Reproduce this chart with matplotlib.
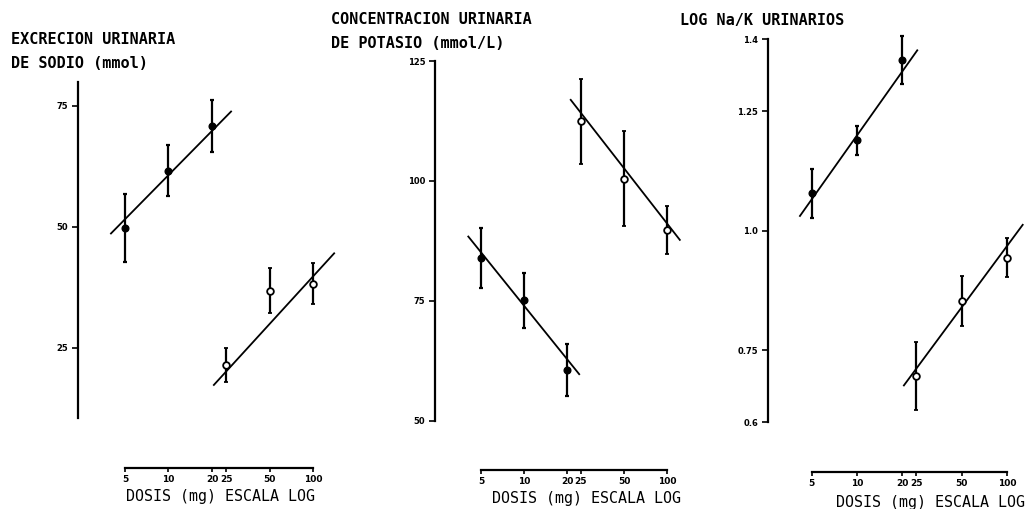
import matplotlib
matplotlib.use("Agg")
import matplotlib.pyplot as plt

W, H = 1030, 509

# Dose groups (mg)
dosis_baja = [5, 10, 20]
dosis_alta = [25, 50, 100]
dosis_ticks = [5, 10, 20, 25, 50, 100]
dosis_labels = ["5", "10", "20", "25", "50", "100"]

# Urinary sodium excretion (mmol)
sodio_baja = [49.8, 61.6, 70.8]
sodio_baja_err = [7.0, 5.3, 5.4]
sodio_alta = [21.5, 36.8, 38.2]
sodio_alta_err = [3.5, 4.7, 4.2]
sodio_recta_baja_x = [4.0, 27.1]
sodio_recta_baja_y = [48.6, 73.8]
sodio_recta_alta_x = [20.6, 140.0]
sodio_recta_alta_y = [17.3, 44.5]

# Urinary potassium concentration (mmol/L)
potasio_baja = [83.9, 75.1, 60.5]
potasio_baja_err = [6.2, 5.7, 5.4]
potasio_alta = [112.4, 100.5, 89.8]
potasio_alta_err = [8.8, 9.9, 5.0]
potasio_recta_baja_x = [4.07, 24.3]
potasio_recta_baja_y = [88.4, 59.7]
potasio_recta_alta_x = [21.2, 123.0]
potasio_recta_alta_y = [116.9, 87.7]

# Log urinary Na/K
nak_baja = [1.078, 1.189, 1.356]
nak_baja_err = [0.052, 0.030, 0.050]
nak_alta = [0.696, 0.853, 0.944]
nak_alta_err = [0.071, 0.052, 0.040]
nak_recta_baja_x = [4.18, 25.3]
nak_recta_baja_y = [1.031, 1.377]
nak_recta_alta_x = [20.6, 127.6]
nak_recta_alta_y = [0.677, 1.0125]

sodio_ticks = [25, 50, 75]
sodio_tick_labels = ["25", "50", "75"]
potasio_ticks = [50, 75, 100, 125]
potasio_tick_labels = ["50", "75", "100", "125"]
nak_ticks = [0.6, 0.75, 1.0, 1.25, 1.4]
nak_tick_labels = ["0.6", "0.75", "1.0", "1.25", "1.4"]

MONO = "DejaVu Sans Mono"

fig = plt.figure(figsize=(W / 100, H / 100), dpi=100)
fig.patch.set_facecolor("white")


def px_axes(left, right, top, bottom):
    return fig.add_axes([left / W, 1 - bottom / H, (right - left) / W, (bottom - top) / H])


def panel(box, xlim, ylim, ybounds, yticks, ylabels,
          baja, baja_err, alta, alta_err, rb_x, rb_y, ra_x, ra_y):
    ax = px_axes(*box)
    ax.set_xscale("log")
    ax.set_xlim(*xlim)
    ax.set_ylim(*ylim)
    ax.set_facecolor("none")
    for s in ("top", "right"):
        ax.spines[s].set_visible(False)
    ax.spines["left"].set_bounds(*ybounds)
    ax.spines["bottom"].set_bounds(5, 100)
    for s in ("left", "bottom"):
        ax.spines[s].set_linewidth(1.6)
        ax.spines[s].set_color("black")
    ax.set_yticks(yticks)
    ax.set_yticklabels(ylabels)
    ax.set_xticks(dosis_ticks)
    ax.set_xticklabels(dosis_labels)
    ax.minorticks_off()
    ax.tick_params(axis="y", direction="out", length=4, width=1.2, pad=3,
                   labelsize=6, colors="black")
    ax.tick_params(axis="x", direction="out", length=3, width=1.2, pad=2,
                   labelsize=6.5, colors="black")
    for lab in ax.get_xticklabels() + ax.get_yticklabels():
        lab.set_fontweight("bold")

    ax.plot(rb_x, rb_y, color="black", lw=1.3, clip_on=False, zorder=2)
    ax.plot(ra_x, ra_y, color="black", lw=1.3, clip_on=False, zorder=2)
    ax.errorbar(dosis_baja, baja, yerr=baja_err, fmt="o", ms=4.8,
                mfc="black", mec="black", ecolor="black", elinewidth=1.6,
                capsize=1.6, capthick=1.6, clip_on=False, zorder=3)
    ax.errorbar(dosis_alta, alta, yerr=alta_err, fmt="o", ms=4.8,
                mfc="white", mec="black", mew=1.3, ecolor="black",
                elinewidth=1.6, capsize=1.6, capthick=1.6, clip_on=False,
                zorder=3)
    return ax


panel((78, 345, 82, 468), (2.366, 166.4), (0.14, 79.9), (10.47, 79.9),
      sodio_ticks, sodio_tick_labels,
      sodio_baja, sodio_baja_err, sodio_alta, sodio_alta_err,
      sodio_recta_baja_x, sodio_recta_baja_y, sodio_recta_alta_x, sodio_recta_alta_y)

panel((435, 690, 61, 470), (2.38, 144.9), (39.72, 125), (50, 125),
      potasio_ticks, potasio_tick_labels,
      potasio_baja, potasio_baja_err, potasio_alta, potasio_alta_err,
      potasio_recta_baja_x, potasio_recta_baja_y, potasio_recta_alta_x, potasio_recta_alta_y)

panel((768, 1028, 39.3, 471.7), (2.56, 138.4), (0.4968, 1.4), (0.6, 1.4),
      nak_ticks, nak_tick_labels,
      nak_baja, nak_baja_err, nak_alta, nak_alta_err,
      nak_recta_baja_x, nak_recta_baja_y, nak_recta_alta_x, nak_recta_alta_y)


def label(x, y, s, ha="left", size=10.5, weight="normal"):
    fig.text(x / W, 1 - y / H, s, ha=ha, va="center", family=MONO,
             fontsize=size, fontweight=weight, color="black")


label(11, 40, "EXCRECION URINARIA", size=10.9, weight="bold")
label(11, 64, "DE SODIO (mmol)", size=10.9, weight="bold")
label(331, 20, "CONCENTRACION URINARIA", size=10.9, weight="bold")
label(331, 44, "DE POTASIO (mmol/L)", size=10.9, weight="bold")
label(680, 20, "LOG Na/K URINARIOS", size=10.9, weight="bold")

label(221, 497, "DOSIS (mg) ESCALA LOG", ha="center", size=10.8)
label(587, 498, "DOSIS (mg) ESCALA LOG", ha="center", size=10.8)
label(931, 503, "DOSIS (mg) ESCALA LOG", ha="center", size=10.8)

fig.savefig("out.png", dpi=100, facecolor="white")
